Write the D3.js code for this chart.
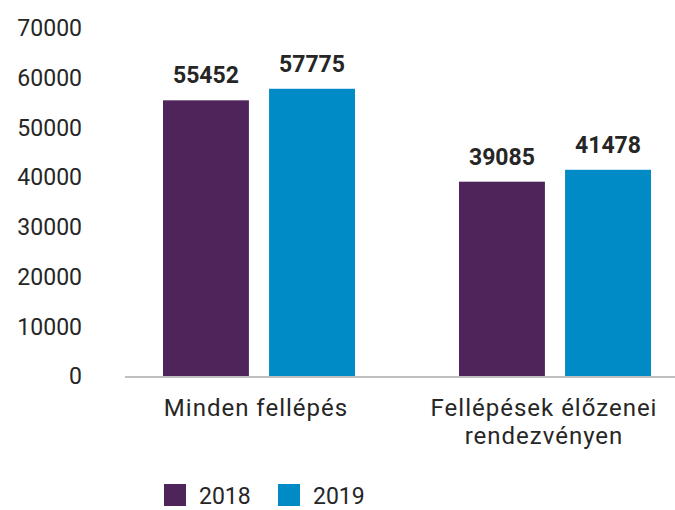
<!DOCTYPE html>
<html>
<head>
<meta charset="utf-8">
<script src="https://cdn.jsdelivr.net/npm/d3@7"></script>
<style>
  body { margin: 0; background: #fff; }
  svg { display: block; font-family: Roboto, "Open Sans", sans-serif; }
</style>
</head>
<body>
<div id="chart"></div>
<script>
// data
const categories = [['Minden fellépés'], ['Fellépések élőzenei', 'rendezvényen']];
const years = ['2018', '2019'];
const values2018 = [55452, 39085];
const values2019 = [57775, 41478];
const yTicks = [0, 10000, 20000, 30000, 40000, 50000, 60000, 70000];

const width = 675;
const height = 510;
const colors = { 2018: '#4f245b', 2019: '#008bc6' };
const textColor = '#262626';

const rows = categories.map((c, i) => ({
  key: c.join(' '),
  lines: c,
  values: [
    { year: '2018', value: values2018[i] },
    { year: '2019', value: values2019[i] },
  ],
}));

const svg = d3.select('#chart')
  .append('svg')
  .attr('width', width)
  .attr('height', height);

// scales
const x0 = d3.scaleBand()
  .domain(rows.map((d) => d.key))
  .range([111, 703]);

const x1 = d3.scaleBand()
  .domain(years)
  .range([52, 244])
  .paddingInner(0.19);

const y = d3.scaleLinear()
  .domain([0, 70000])
  .range([376, 28]);

// y axis labels (no line)
svg.append('g')
  .attr('font-size', 23)
  .attr('fill', textColor)
  .attr('text-anchor', 'end')
  .selectAll('text')
  .data(yTicks)
  .join('text')
  .attr('x', 82)
  .attr('y', (d) => y(d))
  .attr('dy', '0.36em')
  .text((d) => d);

// bars
const groups = svg.append('g')
  .selectAll('g')
  .data(rows)
  .join('g')
  .attr('transform', (d) => `translate(${x0(d.key)},0)`);

groups.selectAll('rect')
  .data((d) => d.values)
  .join('rect')
  .attr('x', (d) => x1(d.year))
  .attr('y', (d) => y(d.value))
  .attr('width', x1.bandwidth())
  .attr('height', (d) => y(0) - y(d.value))
  .attr('fill', (d) => colors[d.year]);

groups.selectAll('text.value')
  .data((d) => d.values)
  .join('text')
  .attr('class', 'value')
  .attr('x', (d) => x1(d.year) + x1.bandwidth() / 2)
  .attr('y', (d) => y(d.value) - 17)
  .attr('text-anchor', 'middle')
  .attr('font-size', 23)
  .attr('font-weight', 'bold')
  .attr('fill', textColor)
  .text((d) => d.value);

// x axis baseline
svg.append('line')
  .attr('x1', 125)
  .attr('x2', 675)
  .attr('y1', y(0) + 1)
  .attr('y2', y(0) + 1)
  .attr('stroke', '#bfbfbf')
  .attr('stroke-width', 2);

// category labels
svg.append('g')
  .attr('font-size', 24)
  .attr('letter-spacing', 1)
  .attr('fill', textColor)
  .attr('text-anchor', 'middle')
  .selectAll('text')
  .data(rows)
  .join('text')
  .attr('x', (d, i) => x0(d.key) + x0.bandwidth() / 2 - (i === 0 ? 3 : 11))
  .attr('y', 416)
  .selectAll('tspan')
  .data((d) => d.lines)
  .join('tspan')
  .attr('x', function () { return d3.select(this.parentNode).attr('x'); })
  .attr('dy', (_, i) => (i === 0 ? 0 : 28))
  .text((d) => d);

// legend (kept just inside the bottom edge)
const legend = svg.append('g')
  .selectAll('g')
  .data(years)
  .join('g')
  .attr('transform', (d, i) => `translate(${164 + i * 114},484)`);

legend.append('rect')
  .attr('width', 22)
  .attr('height', 22)
  .attr('fill', (d) => colors[d]);

legend.append('text')
  .attr('x', 35)
  .attr('y', 20)
  .attr('font-size', 23)
  .attr('fill', textColor)
  .text((d) => d);
</script>
</body>
</html>
